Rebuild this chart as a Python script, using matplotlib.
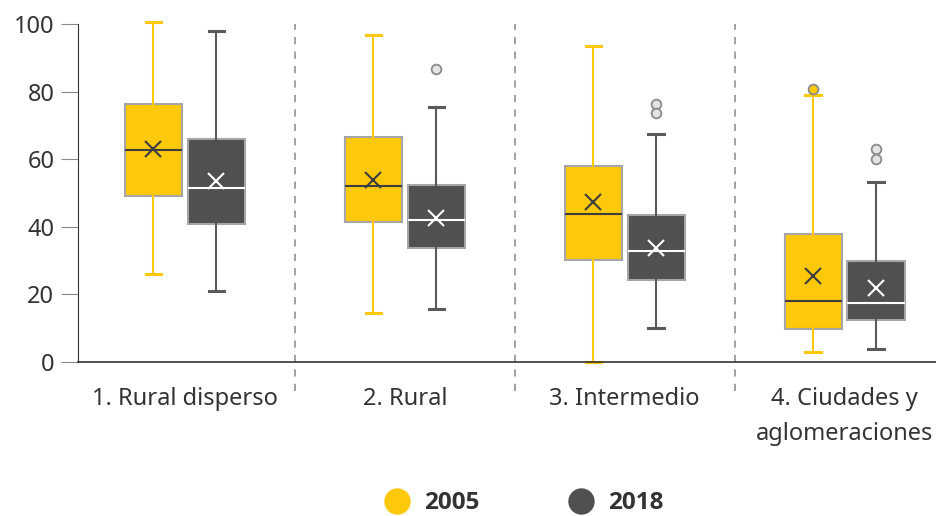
import numpy as np
import matplotlib.pyplot as plt
from matplotlib.lines import Line2D

plt.rcParams['font.family'] = ['Noto Sans', 'DejaVu Sans']

categories = ["1. Rural disperso", "2. Rural", "3. Intermedio", "4. Ciudades y\naglomeraciones"]
series = ["2005", "2018"]

# box stats
q1_2005 = [49.2, 41.3, 30.2, 9.7]
med_2005 = [62.8, 52.2, 43.8, 18.0]
q3_2005 = [76.2, 66.7, 58.1, 38.0]
lo_2005 = [26.1, 14.4, 0.0, 2.9]
hi_2005 = [100.5, 96.7, 93.5, 79.0]
mean_2005 = [62.9, 54.0, 47.2, 25.4]
out_2005 = [[], [], [], [80.8]]

q1_2018 = [40.9, 33.6, 24.3, 12.4]
med_2018 = [51.5, 42.0, 32.8, 17.4]
q3_2018 = [65.9, 52.4, 43.5, 30.0]
lo_2018 = [21.1, 15.7, 10.2, 3.9]
hi_2018 = [97.9, 75.5, 67.5, 53.3]
mean_2018 = [53.6, 42.5, 33.6, 22.0]
out_2018 = [[], [86.8], [76.3, 73.8], [62.9, 60.1]]

yellow = "#FDC90A"
dark = "#4F5150"
edge = "#A6A6A6"
text_c = "#333333"


def make_stats(q1, med, q3, lo, hi, mean, out):
    return [dict(q1=q1[i], med=med[i], q3=q3[i], whislo=lo[i], whishi=hi[i],
                 mean=mean[i], fliers=np.array(out[i])) for i in range(len(q1))]


fig = plt.figure(figsize=(9.37, 5.16), dpi=100)
ax = fig.add_axes([0.0832, 0.2984, 0.9168, 0.655])

x = np.arange(len(categories))
off = 0.143
w = 0.26

specs = [
    (make_stats(q1_2005, med_2005, q3_2005, lo_2005, hi_2005, mean_2005, out_2005),
     x - off, yellow, yellow, "#3d3d3d", yellow),
    (make_stats(q1_2018, med_2018, q3_2018, lo_2018, hi_2018, mean_2018, out_2018),
     x + off, dark, "#5a5a5a", "white", "#E3E3E3"),
]

for stats, pos, fc, wc, mc, flc in specs:
    ax.bxp(stats, positions=pos, widths=w, showmeans=True, patch_artist=True,
           capwidths=0.07,
           boxprops=dict(facecolor=fc, edgecolor=edge, linewidth=1.5),
           whiskerprops=dict(color=wc, linewidth=1.5),
           capprops=dict(color=wc, linewidth=2.2),
           medianprops=dict(color=mc, linewidth=1.5),
           meanprops=dict(marker="x", markeredgecolor=mc, markersize=12, markeredgewidth=1.5),
           flierprops=dict(marker="o", markerfacecolor=flc, markeredgecolor="#8a8a8a",
                           markersize=7, markeredgewidth=1.3))

for a in ax.get_children():
    if isinstance(a, Line2D):
        a.set_clip_on(False)

for s in [0.5, 1.5, 2.5]:
    ax.axvline(s, ymin=-0.085, ymax=1.0, color="#9a9a9a", linestyle=(0, (4, 4)),
               linewidth=1.3, clip_on=False)

ax.set_xlim(-0.486, 3.42)
ax.set_ylim(0, 100)
ax.set_yticks([0, 20, 40, 60, 80, 100])
ax.set_xticks(x)
ax.set_xticklabels(categories, fontsize=17, color=text_c, linespacing=1.6)
ax.tick_params(axis="x", length=0, pad=18)
ax.tick_params(axis="y", labelsize=17, colors=text_c, length=12, color="#888888", pad=5)
for t in ax.get_yticklabels():
    t.set_color(text_c)

ax.spines["top"].set_visible(False)
ax.spines["right"].set_visible(False)
ax.spines["left"].set_color("#333333")
ax.spines["bottom"].set_color("#333333")
ax.spines["bottom"].set_linewidth(1.2)

handles = [Line2D([], [], marker="o", linestyle="", markersize=18, markerfacecolor=c,
                  markeredgecolor=c) for c in (yellow, dark)]
leg = fig.legend(handles, series, loc="center", bbox_to_anchor=(0.553, 0.025), ncol=2,
                 frameon=False, columnspacing=3.2, handletextpad=0.1,
                 prop=dict(family=["Open Sans", "DejaVu Sans"], weight="bold", size=17.5))
for t in leg.get_texts():
    t.set_color(text_c)

fig.savefig("out.png", dpi=100)
